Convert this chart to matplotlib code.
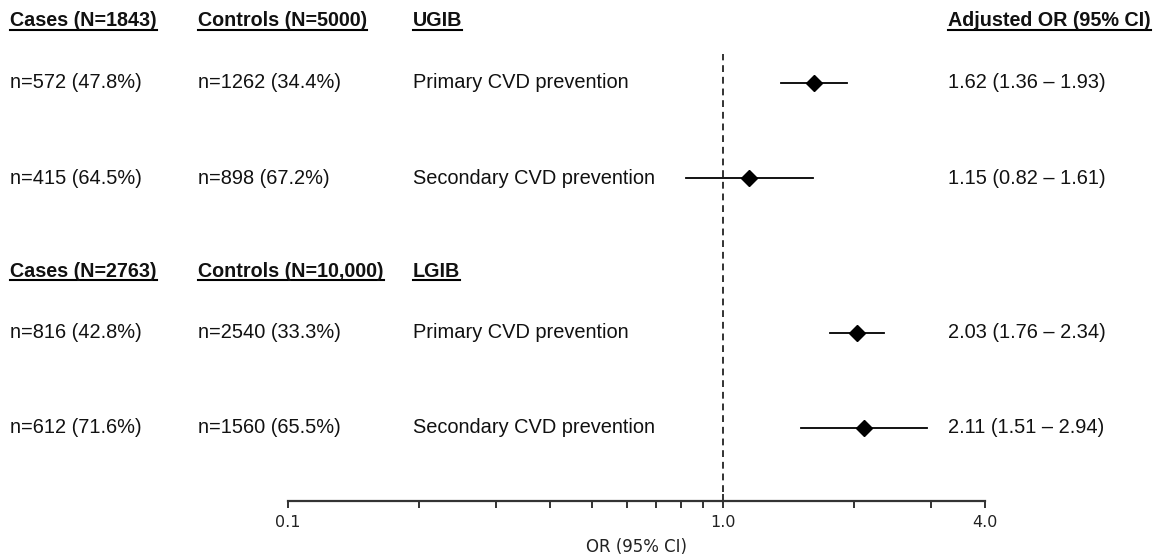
import matplotlib.pyplot as plt
import matplotlib.transforms as mtransforms
from matplotlib.ticker import FixedLocator, NullFormatter

plt.rcParams['font.family'] = ['Liberation Sans', 'DejaVu Sans']

# headers of the two blocks
headers = [
    ['Cases (N=1843)', 'Controls (N=5000)', 'UGIB', 'Adjusted OR (95% CI)'],
    ['Cases (N=2763)', 'Controls (N=10,000)', 'LGIB', None],
]
cases = ['n=572 (47.8%)', 'n=415 (64.5%)', 'n=816 (42.8%)', 'n=612 (71.6%)']
controls = ['n=1262 (34.4%)', 'n=898 (67.2%)', 'n=2540 (33.3%)', 'n=1560 (65.5%)']
labels = ['Primary CVD prevention', 'Secondary CVD prevention',
          'Primary CVD prevention', 'Secondary CVD prevention']
odds = [1.62, 1.15, 2.03, 2.11]
lower = [1.36, 0.82, 1.76, 1.51]
upper = [1.93, 1.61, 2.34, 2.94]

W, H = 1162, 558
fig = plt.figure(figsize=(W / 100, H / 100), dpi=100)
# axes spans the plot column; y in pixels from the top
ax = fig.add_axes([288 / W, 57 / H, (985 - 288) / W, 501 / H])
ax.set_ylim(501, 0)
ax.set_xscale('log')
ax.set_xlim(0.1, 4.0)

header_y = [21, 272]
row_y = [83, 178, 333, 428]
col_x = [10, 198, 413, 948]

ftr = mtransforms.blended_transform_factory(fig.transFigure, ax.transData)

for i, y in enumerate(row_y):
    ax.plot([lower[i], upper[i]], [y, y], color='black', lw=1.3)
    ax.plot(odds[i], y, marker='D', color='black', markersize=8)
    vals = [cases[i], controls[i], labels[i],
            '%.2f (%.2f \u2013 %.2f)' % (odds[i], lower[i], upper[i])]
    for x, s in zip(col_x, vals):
        fig.text(x / W, y, s, transform=ftr, fontsize=14.4, va='center',
                 ha='left', color='#111111')

head_texts = []
for hy, row in zip(header_y, headers):
    for x, s in zip(col_x, row):
        if s is None:
            continue
        t = fig.text(x / W, hy, s, transform=ftr, fontsize=14.2,
                     fontweight='bold', va='center', ha='left', color='#111111')
        head_texts.append(t)

ax.axvline(1.0, ymin=9 / 501, ymax=1 - 54 / 501, color='#333333',
           lw=1.4, ls=(0, (3.5, 2.5)))

for s in ['top', 'left', 'right']:
    ax.spines[s].set_visible(False)
ax.spines['bottom'].set_linewidth(1.6)
ax.spines['bottom'].set_color('#333333')
ax.set_yticks([])
ax.xaxis.set_major_locator(FixedLocator([0.1, 1.0, 4.0]))
ax.xaxis.set_minor_locator(FixedLocator([0.2, 0.3, 0.4, 0.5, 0.6, 0.7, 0.8, 0.9, 2, 3]))
ax.xaxis.set_minor_formatter(NullFormatter())
ax.set_xticklabels(['0.1', '1.0', '4.0'], family='DejaVu Sans', fontsize=11.5,
                   color='#222222')
ax.tick_params(axis='x', which='both', direction='out', length=5, width=1.4,
               pad=5, color='#333333')
ax.set_xlabel('OR (95% CI)', family='DejaVu Sans', fontsize=12, labelpad=6,
              color='#222222')

# the reference tick at 1.0 crosses the axis line
one_tick = ax.xaxis.get_major_ticks()[1]
one_tick.tick1line.set_marker('|')
one_tick.tick1line.set_markersize(10)

# underline the header texts
fig.canvas.draw()
r = fig.canvas.get_renderer()
for t in head_texts:
    bb = t.get_window_extent(renderer=r).transformed(fig.transFigure.inverted())
    fig.add_artist(plt.Line2D([bb.x0, bb.x1], [bb.y0 + 1 / H, bb.y0 + 1 / H],
                              transform=fig.transFigure, color='black', lw=1.5))

fig.savefig('out.png', dpi=100)
